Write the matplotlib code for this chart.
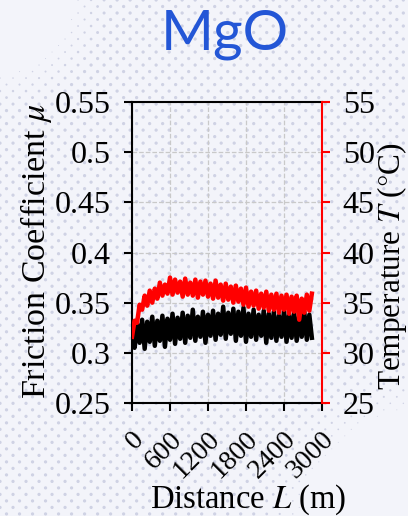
import numpy as np
import matplotlib
matplotlib.use("Agg")
import matplotlib.pyplot as plt
from matplotlib.transforms import ScaledTranslation

plt.rcParams["font.family"] = ["Liberation Serif", "DejaVu Serif"]
plt.rcParams["mathtext.fontset"] = "stix"

# Sliding distance (m) and the two recorded signals
distance_m = [0, 40, 80, 120, 160, 200, 240, 280, 320, 360, 400, 440, 480, 520,
              560, 600, 640, 680, 720, 760, 800, 840, 880, 920, 960, 1000, 1040,
              1080, 1120, 1160, 1200, 1240, 1280, 1320, 1360, 1400, 1440, 1480,
              1520, 1560, 1600, 1640, 1680, 1720, 1760, 1800, 1840, 1880, 1920,
              1960, 2000, 2040, 2080, 2120, 2160, 2200, 2240, 2280, 2320, 2360,
              2400, 2440, 2480, 2520, 2560, 2600, 2640, 2680, 2720, 2760, 2800,
              2840]

friction_mu = [0.316, 0.305, 0.329, 0.310, 0.333, 0.304, 0.331, 0.311, 0.336,
               0.307, 0.332, 0.312, 0.337, 0.306, 0.334, 0.313, 0.339, 0.309,
               0.335, 0.314, 0.340, 0.310, 0.337, 0.315, 0.343, 0.312, 0.336,
               0.316, 0.341, 0.310, 0.338, 0.317, 0.342, 0.313, 0.339, 0.318,
               0.346, 0.314, 0.340, 0.319, 0.344, 0.312, 0.341, 0.317, 0.345,
               0.311, 0.339, 0.316, 0.343, 0.313, 0.338, 0.317, 0.342, 0.310,
               0.339, 0.315, 0.341, 0.312, 0.337, 0.316, 0.342, 0.311, 0.338,
               0.315, 0.340, 0.312, 0.337, 0.316, 0.341, 0.313, 0.338, 0.315]

temperature_c = [31.6, 33.2, 33.0, 34.8, 34.3, 35.7, 34.7, 36.2, 35.0, 36.4,
                 35.4, 37.0, 35.7, 36.8, 35.9, 37.5, 35.8, 37.3, 36.0, 37.1,
                 35.6, 37.4, 35.8, 37.0, 35.7, 37.3, 35.5, 37.1, 35.8, 37.2,
                 35.6, 36.9, 35.4, 37.2, 35.5, 36.8, 35.2, 36.9, 35.3, 36.6,
                 35.0, 36.7, 35.1, 36.4, 34.8, 36.5, 34.6, 36.1, 34.7, 36.2,
                 34.4, 35.9, 34.5, 36.1, 34.2, 35.8, 34.3, 35.9, 34.0, 35.7,
                 34.3, 35.8, 33.9, 35.6, 34.1, 35.7, 33.3, 35.4, 34.0, 35.8,
                 34.2, 35.9]

x_ticks = [0, 600, 1200, 1800, 2400, 3000]
mu_ticks = [0.25, 0.30, 0.35, 0.40, 0.45, 0.50, 0.55]
mu_tick_labels = ["0.25", "0.3", "0.35", "0.4", "0.45", "0.5", "0.55"]
t_ticks = [25, 30, 35, 40, 45, 50, 55]

W, H = 408, 516
fig = plt.figure(figsize=(W / 100, H / 100), dpi=100)
fig.patch.set_facecolor("#f3f4fa")

# Decorative halftone dot backdrop
bg = fig.add_axes([0, 0, 1, 1], zorder=-10)
bg.set_xlim(0, W)
bg.set_ylim(H, 0)
bg.axis("off")
step = 9.2
pts = []
for i in range(-80, 80):
    for j in range(-80, 80):
        u, v = i * step, j * step
        px = (u - v) / np.sqrt(2)
        py = (u + v) / np.sqrt(2)
        if -5 <= px <= W + 5 and -5 <= py <= H + 5:
            pts.append((px, py))
pts = np.array(pts)
d_tl = np.hypot(pts[:, 0] - 0, pts[:, 1] - 0)
d_br = np.hypot(pts[:, 0] - 430, pts[:, 1] - 540)
fade = np.clip((d_tl - 70) / 40, 0, 1) * np.clip((d_br - 130) / 50, 0, 1)
keep = fade > 0.05
bg.scatter(pts[keep, 0], pts[keep, 1], s=5.5 * fade[keep], color="#cfd2e4",
           linewidths=0)

# Main axes
ax = fig.add_axes([132 / W, 1 - 403 / H, 190 / W, 301 / H])
ax.patch.set_alpha(0)
ax2 = ax.twinx()

ax.plot(distance_m, friction_mu, color="black", lw=3.2, zorder=3)
ax2.plot(distance_m, temperature_c, color="#ff0000", lw=3.2, zorder=3)

ax.set_xlim(0, 3000)
ax.set_ylim(0.25, 0.55)
ax2.set_ylim(25, 55)
ax.set_xticks(x_ticks)
ax.set_xticklabels([str(v) for v in x_ticks], rotation=45, ha="right")
ax.set_yticks(mu_ticks)
ax.set_yticklabels(mu_tick_labels)
ax2.set_yticks(t_ticks)

ax.grid(True, color="#c9c9c9", linestyle="--", linewidth=0.9)
ax.set_axisbelow(True)

for s in ("left", "bottom", "top"):
    ax.spines[s].set_linewidth(1.5)
    ax.spines[s].set_color("black")
ax.spines["right"].set_visible(False)
for s in ("left", "bottom", "top"):
    ax2.spines[s].set_visible(False)
ax2.spines["right"].set_color("#ff0000")
ax2.spines["right"].set_linewidth(1.5)

ax.tick_params(axis="y", direction="out", length=6, width=1.5,
               labelsize=23, pad=9, colors="black")
ax.tick_params(axis="x", direction="out", length=6, width=1.5,
               labelsize=20, pad=4, colors="black")
ax2.tick_params(axis="y", direction="out", length=6, width=1.5,
                labelsize=23, pad=9, color="#ff0000", labelcolor="black")

# Nudge the slanted distance labels right and down
shift = ScaledTranslation(17 / 100, -10 / 100, fig.dpi_scale_trans)
for lbl in ax.get_xticklabels():
    lbl.set_transform(lbl.get_transform() + shift)

# Labels and title
fig.text(36 / W, 1 - 251 / H, r"Friction Coefficient $\mu$", rotation=90,
         ha="center", va="center", fontsize=24.5)
fig.text(392 / W, 1 - 266 / H, r"Temperature $T$ ($\degree$C)", rotation=90,
         ha="center", va="center", fontsize=22.5)
fig.text(248 / W, 1 - 500 / H, r"Distance $L$ (m)", ha="center", va="center",
         fontsize=23.5)
fig.text(225 / W, 1 - 50 / H, "MgO", ha="center", va="baseline",
         fontsize=41, family="Lato", color="#2356d6")

fig.savefig("out.png", dpi=100, facecolor=fig.get_facecolor())
